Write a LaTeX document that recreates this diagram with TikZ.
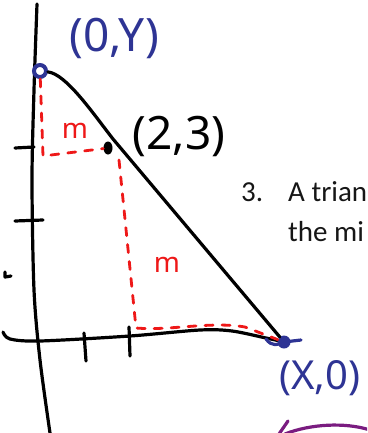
\documentclass[tikz,border=0pt]{standalone}
\usepackage{fontspec}
\setmainfont{Carlito}
\newfontfamily\handfont{Noto Sans}
\usetikzlibrary{positioning,shapes.geometric}
\definecolor{inkblue}{RGB}{46,52,148}
\definecolor{inkred}{RGB}{238,24,24}
\definecolor{inkpurple}{RGB}{122,28,128}
\definecolor{printblack}{RGB}{22,22,22}
\tikzset{
  pen/.style={line width=3.2pt, line cap=round, line join=round},
  redpen/.style={line width=2.8pt, draw=inkred, line cap=round, dash pattern=on 8pt off 9pt},
  bluepen/.style={line width=3.2pt, draw=inkblue, line cap=round, line join=round},
  purplepen/.style={line width=3.2pt, draw=inkpurple, line cap=round},
  hand/.style={font=\handfont\fontsize{46}{46}\selectfont, inner sep=0pt},
  handsmall/.style={font=\handfont\fontsize{40}{40}\selectfont, inner sep=0pt},
  mlabel/.style={font=\handfont\fontsize{28}{28}\selectfont, text=inkred, inner sep=0pt},
  printed/.style={font=\fontsize{29}{29}\selectfont, text=printblack, inner sep=0pt, anchor=base west},
}

\begin{document}
\begin{tikzpicture}[x=1pt,y=-1pt]
  \useasboundingbox (0,0) rectangle (367,433);
  \clip (0,0) rectangle (367,433);
  % axes
  \draw[pen] plot[smooth] coordinates {(37,4) (34,90) (32,180) (34,290) (40,360) (50,433)};
  \draw[pen] plot[smooth] coordinates {(3,332) (10,339) (40,341) (130,336) (200,330) (232,331) (266,338) (280,341)};
  \draw[pen] (15,148) -- (34,147);
  \draw[pen] (15,221) -- (43,220);
  \draw[pen] (5,272) -- (5,277) -- (11,276);
  \draw[pen] (84,333) -- (86,361);
  \draw[pen] (129,327) -- (130,356);
  % points
  \node[circle, draw=inkblue, line width=4pt, fill=white, minimum size=12pt, inner sep=0pt] (yint) at (40,71) {};
  \node[circle, fill=inkblue, minimum size=13pt, inner sep=0pt] (xint) at (284,342) {};
  \node[ellipse, fill=black, minimum width=9pt, minimum height=13pt, inner sep=0pt] (pt) at (108,148) {};
  \coordinate (bend) at (113,139);
  \coordinate (legtop) at (119,160);
  % hypotenuse
  \draw[pen] (yint) .. controls (66,74) and (92,112) .. (bend) -- (xint);
  \draw[bluepen] (266,339) .. controls (272,347) and (278,345) .. (xint.center) -- (301,340);
  % red legs
  \draw[redpen] (yint) -- (43,156) -- (pt);
  \draw[redpen] (legtop) -- (136,328) .. controls (170,331) and (210,321) .. (245,327) -- (xint);
  % labels
  \node[hand, text=inkblue] (lblyint) at (114,38) {(0,Y)};
  \node[hand, text=black] (lblpt) at (179,136) {(2,3)};
  \node[handsmall, text=inkblue] (lblxint) at (320,378) {(X,0)};
  \node[mlabel] (mtop) at (75,131) {m};
  \node[mlabel] (mside) at (167,265) {m};
  \node[printed] (qnum) at (241,201) {3.};
  \node[printed] (qline1) at (288,201) {A trian};
  \node[printed] (qline2) at (288,241) {the mi};
  \draw[purplepen] (288,421) -- (279,434);
  \draw[purplepen] (285,434) .. controls (310,424) and (345,422) .. (370,430);
\end{tikzpicture}
\end{document}
